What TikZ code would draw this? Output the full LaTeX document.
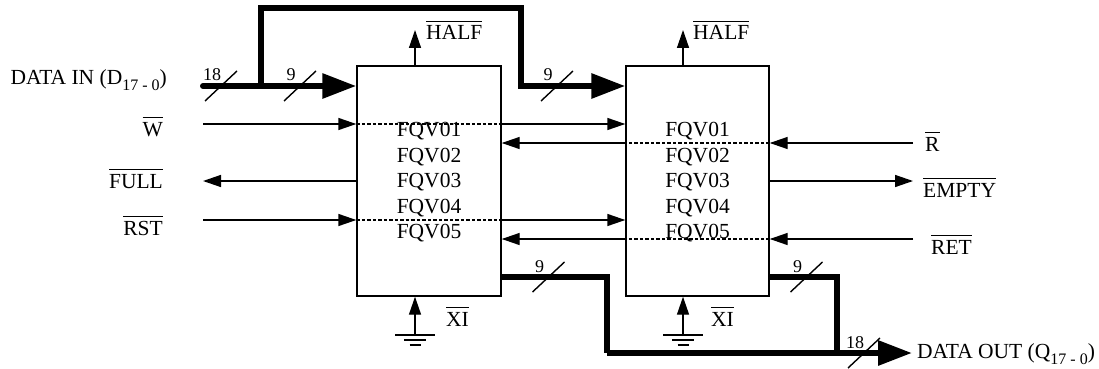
\documentclass[tikz,border=0pt]{standalone}
\usepackage{fontspec}
\setmainfont{Liberation Serif}
\usetikzlibrary{arrows.meta,calc}
\tikzset{
  thinline/.style={line width=1.4pt},
  sig/.style={thinline,-{Triangle[length=18pt,width=12pt]}},
  inside/.style={line width=1.2pt,dash pattern=on 3.5pt off 2pt},
  bus/.style={line width=6pt,line join=miter},
  busarrow/.style={bus,-{Triangle[length=34pt,width=24pt]}},
  fifo/.style={draw,line width=1.4pt,minimum width=144pt,minimum height=230pt,inner sep=0pt},
  lbl/.style={font=\fontsize{21.5}{25}\selectfont,inner sep=0pt},
  fq/.style={lbl,anchor=base},
  num/.style={font=\fontsize{18}{20}\selectfont,inner sep=0pt,anchor=base},
}
\newcommand{\ovl}[1]{\leavevmode\vbox{\hrule height 1pt\kern 4pt\hbox{#1}}}
\newcommand{\subidx}[1]{\raisebox{-6pt}{\fontsize{16}{18}\selectfont #1}}
\newcommand{\busslash}[2]{%
  \draw[thinline] ($(#1)+(-16,15)$) -- ($(#1)+(16,-15)$);
  \node[num] at ($(#1)+(-9,-5)$) {#2};}
\begin{document}
\begin{tikzpicture}[x=1pt,y=-1pt]
\useasboundingbox (0,0) rectangle (1099,369);
% boxes
\node[fifo] (b1) at (429,181) {};
\node[fifo,minimum width=143pt] (b2) at (697.5,181) {};
% FQV labels
\foreach \t/\y in {FQV01/136.5,FQV02/162,FQV03/187.5,FQV04/213,FQV05/238.5}{
  \node[fq] at (429,\y) {\t};
  \node[fq] at (697.5,\y) {\t};
}
% coordinates for free ends
\coordinate (din) at (203,86);
\coordinate (win) at (203,124);
\coordinate (fullout) at (203,181);
\coordinate (rstin) at (203,220);
\coordinate (rin) at (913,143);
\coordinate (emptyout) at (913,181);
\coordinate (retin) at (913,239);
\coordinate (h1) at (415,30);
\coordinate (h2) at (683,30);
\coordinate (g1) at (415,335);
\coordinate (g2) at (683,335);
\coordinate (dout) at (912,353);
\coordinate (split) at (261,86);
\coordinate (top1) at (261,8);
\coordinate (top2) at (521,8);
\coordinate (down2) at (521,86);
\coordinate (o1a) at (607,277);
\coordinate (o1b) at (607,353);
\coordinate (o2a) at (837,277);
\coordinate (o2b) at (837,353);
% left labels
\node[lbl,anchor=base east] (ldin) at (167,84) {DATA IN (D\subidx{17 - 0})};
\node[lbl,anchor=base east] (lw) at (163,136) {\ovl{W}};
\node[lbl,anchor=base east] (lfull) at (163,188) {\ovl{FULL}};
\node[lbl,anchor=base east] (lrst) at (163,235) {\ovl{RST}};
% right labels
\node[lbl,anchor=base west] (lr) at (925,151) {\ovl{R}};
\node[lbl,anchor=base west] (lempty) at (923,197) {\ovl{EMPTY}};
\node[lbl,anchor=base west] (lret) at (931,254) {\ovl{RET}};
\node[lbl,anchor=base west] (ldout) at (917,358) {DATA OUT (Q\subidx{17 - 0})};
% HALF / XI labels
\node[lbl,anchor=base west] (lh1) at (426,40) {\ovl{HALF}};
\node[lbl,anchor=base west] (lh2) at (693,40) {\ovl{HALF}};
\node[lbl,anchor=base west] (lx1) at (446,326) {\ovl{XI}};
\node[lbl,anchor=base west] (lx2) at (711,326) {\ovl{XI}};
% W
\draw[sig] (win) -- (win -| b1.west);
\draw[inside] (win -| b1.west) -- (win -| b1.east);
\draw[sig] (win -| b1.east) -- (win -| b2.west);
% RST
\draw[sig] (rstin) -- (rstin -| b1.west);
\draw[inside] (rstin -| b1.west) -- (rstin -| b1.east);
\draw[sig] (rstin -| b1.east) -- (rstin -| b2.west);
% R
\draw[sig] (rin) -- (rin -| b2.east);
\draw[inside] (rin -| b2.east) -- (rin -| b2.west);
\draw[sig] (rin -| b2.west) -- (rin -| b1.east);
% RET
\draw[sig] (retin) -- (retin -| b2.east);
\draw[inside] (retin -| b2.east) -- (retin -| b2.west);
\draw[sig] (retin -| b2.west) -- (retin -| b1.east);
% FULL / EMPTY
\draw[sig] (fullout -| b1.west) -- (fullout);
\draw[sig] (emptyout -| b2.east) -- (emptyout);
% HALF
\draw[sig] (h1 |- b1.north) -- (h1);
\draw[sig] (h2 |- b2.north) -- (h2);
% XI with ground
\draw[sig] (g1) -- (g1 |- b1.south);
\draw[sig] (g2) -- (g2 |- b2.south);
\foreach \g in {g1,g2}{
  \draw[thinline] ($(\g)+(-20,0)$) -- ($(\g)+(20,0)$);
  \draw[thinline] ($(\g)+(-11,5)$) -- ($(\g)+(11,5)$);
  \draw[thinline] ($(\g)+(-5.5,10)$) -- ($(\g)+(5.5,10)$);
}
% data in bus
\draw[busarrow,line cap=round] (din) -- (din -| b1.west);
\draw[busarrow] (split) -- (top1) -- (top2) -- (down2) -- (down2 -| b2.west);
% data out bus
\draw[bus] (o1a -| b1.east) -- (o1a) -- (o1b);
\draw[bus] (o2a -| b2.east) -- (o2a) -- (o2b);
\draw[busarrow] (o1b) -- (dout);
% slashes
\busslash{221,86}{18}
\busslash{300,86}{9}
\busslash{557,86}{9}
\busslash{548.5,277}{9}
\busslash{806.5,277}{9}
\busslash{864,353}{18}
\end{tikzpicture}
\end{document}
